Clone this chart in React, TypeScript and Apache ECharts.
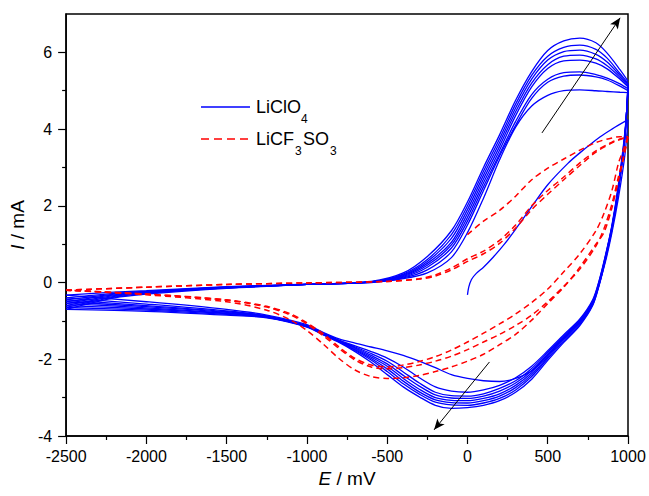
import React, { useEffect, useRef } from "react";
import * as echarts from "echarts";

const FONT = "'Liberation Sans', Arial, Helvetica, sans-serif";

// x tick labels: -2500 .. 1000 step 500 ; y tick labels -4 .. 6 step 2
const yMajorTicks = [-4, -2, 0, 2, 4, 6];
const yMinorTicks = [-3, -1, 1, 3, 5];

// ---------- LiClO4 (blue) ----------
// initial sweep from 0 mV
const blueInitE = [0, 8, 25, 55, 100, 160, 230, 310, 400, 500, 624, 700, 827, 900, 981, 1000];
const blueInitI = [-0.32, -0.12, 0.08, 0.24, 0.4, 0.66, 1.0, 1.45, 1.98, 2.55, 3.1, 3.38, 3.8, 4.0, 4.2, 4.24];

// anodic sweeps (cycles 2..9)
const anodicE = [-2500, -2200, -2000, -1500, -1000, -600, -400, -250, -100, 0, 100, 200, 300, 400, 500, 600, 700, 800, 870, 950, 1000];
const blueA2 = [-0.33, -0.25, -0.21, -0.11, -0.04, 0.0, 0.1, 0.25, 0.65, 1.3, 2.2, 3.2, 4.05, 4.6, 4.88, 5.0, 5.02, 5.0, 4.98, 4.96, 4.95];
const blueA3 = [-0.4, -0.28, -0.23, -0.12, -0.05, 0.01, 0.12, 0.33, 0.8, 1.5, 2.4, 3.3, 4.1, 4.8, 5.22, 5.38, 5.41, 5.36, 5.28, 5.12, 5.0];
const blueA4 = [-0.45, -0.3, -0.24, -0.12, -0.05, 0.01, 0.14, 0.4, 0.9, 1.6, 2.5, 3.35, 4.2, 4.9, 5.3, 5.47, 5.49, 5.42, 5.33, 5.18, 5.05];
const blueA5 = [-0.5, -0.32, -0.25, -0.13, -0.05, 0.02, 0.16, 0.45, 0.98, 1.7, 2.6, 3.45, 4.35, 5.1, 5.58, 5.78, 5.8, 5.72, 5.57, 5.3, 5.1];
const blueA6 = [-0.55, -0.34, -0.26, -0.13, -0.05, 0.02, 0.18, 0.5, 1.05, 1.8, 2.7, 3.55, 4.45, 5.2, 5.68, 5.9, 5.93, 5.83, 5.65, 5.35, 5.13];
const blueA7 = [-0.6, -0.36, -0.27, -0.14, -0.05, 0.02, 0.2, 0.55, 1.15, 1.9, 2.8, 3.65, 4.55, 5.3, 5.8, 6.02, 6.06, 5.95, 5.75, 5.4, 5.17];
const blueA8 = [-0.65, -0.38, -0.28, -0.14, -0.05, 0.02, 0.22, 0.6, 1.25, 2.0, 2.9, 3.75, 4.65, 5.4, 5.9, 6.13, 6.19, 6.08, 5.85, 5.45, 5.2];
const blueA9 = [-0.7, -0.4, -0.3, -0.15, -0.05, 0.03, 0.25, 0.68, 1.35, 2.1, 3.0, 3.85, 4.75, 5.5, 6.05, 6.3, 6.37, 6.25, 5.98, 5.55, 5.25];

// cathodic sweeps (cycles 1..8)
const cathodicE = [1000, 980, 940, 900, 860, 820, 780, 700, 600, 500, 400, 300, 200, 100, 0, -100, -200, -300, -400, -500, -600, -700, -800, -900, -1000, -1250, -1500, -2000, -2500];
const blueC1 = [4.24, 3.3, 2.2, 1.3, 0.55, -0.05, -0.52, -1.02, -1.45, -1.88, -2.3, -2.5, -2.58, -2.56, -2.5, -2.4, -2.22, -2.05, -1.9, -1.78, -1.68, -1.58, -1.47, -1.3, -1.1, -0.85, -0.7, -0.5, -0.33];
const blueC2 = [4.95, 3.9, 2.55, 1.5, 0.72, 0.05, -0.45, -0.95, -1.36, -1.78, -2.18, -2.48, -2.68, -2.8, -2.86, -2.83, -2.72, -2.48, -2.2, -1.97, -1.8, -1.65, -1.5, -1.31, -1.12, -0.87, -0.74, -0.56, -0.4];
const blueC3 = [5.0, 3.85, 2.5, 1.47, 0.7, 0.03, -0.48, -0.98, -1.39, -1.82, -2.24, -2.56, -2.76, -2.9, -2.96, -2.95, -2.86, -2.62, -2.33, -2.05, -1.85, -1.68, -1.51, -1.32, -1.13, -0.88, -0.76, -0.6, -0.45];
const blueC4 = [5.05, 3.8, 2.47, 1.45, 0.68, 0.0, -0.5, -1.0, -1.42, -1.86, -2.3, -2.62, -2.83, -2.96, -3.02, -3.01, -2.93, -2.7, -2.42, -2.12, -1.9, -1.7, -1.52, -1.33, -1.14, -0.89, -0.78, -0.63, -0.5];
const blueC5 = [5.1, 3.8, 2.45, 1.43, 0.66, -0.02, -0.53, -1.03, -1.45, -1.9, -2.35, -2.68, -2.9, -3.02, -3.08, -3.07, -3.0, -2.78, -2.5, -2.18, -1.94, -1.72, -1.53, -1.34, -1.14, -0.9, -0.8, -0.66, -0.55];
const blueC6 = [5.13, 3.78, 2.43, 1.41, 0.64, -0.04, -0.55, -1.06, -1.48, -1.94, -2.4, -2.74, -2.96, -3.08, -3.14, -3.13, -3.06, -2.85, -2.57, -2.25, -1.98, -1.75, -1.54, -1.35, -1.15, -0.9, -0.81, -0.69, -0.6];
const blueC7 = [5.17, 3.75, 2.41, 1.39, 0.62, -0.06, -0.58, -1.09, -1.52, -1.98, -2.45, -2.8, -3.02, -3.14, -3.2, -3.19, -3.12, -2.91, -2.64, -2.32, -2.02, -1.77, -1.55, -1.35, -1.15, -0.91, -0.83, -0.72, -0.65];
const blueC8 = [5.2, 3.72, 2.4, 1.37, 0.6, -0.08, -0.6, -1.12, -1.56, -2.03, -2.52, -2.86, -3.08, -3.2, -3.26, -3.28, -3.2, -2.98, -2.72, -2.4, -2.08, -1.8, -1.56, -1.36, -1.16, -0.92, -0.85, -0.75, -0.7];

// ---------- LiCF3SO3 (red) ----------
const redInitE = [0, 100, 200, 300, 400, 500, 600, 700, 800, 900, 950, 1000];
const redInitI = [1.25, 1.6, 1.88, 2.25, 2.68, 2.98, 3.22, 3.45, 3.65, 3.77, 3.8, 3.8];

const redAnodicE = [-2500, -2000, -1500, -1000, -500, -300, -200, -100, 0, 100, 200, 300, 400, 500, 600, 700, 800, 900, 950, 1000];
const redA2 = [-0.2, -0.12, -0.05, -0.01, 0.03, 0.1, 0.2, 0.38, 0.62, 0.82, 1.1, 1.5, 2.0, 2.4, 2.75, 3.12, 3.43, 3.66, 3.74, 3.8];
const redA3 = [-0.2, -0.12, -0.05, -0.01, 0.03, 0.09, 0.17, 0.33, 0.55, 0.75, 1.02, 1.42, 1.9, 2.3, 2.68, 3.05, 3.4, 3.64, 3.73, 3.8];

const redCathodicE = [1000, 970, 940, 900, 850, 800, 700, 600, 500, 400, 300, 200, 100, 0, -100, -200, -300, -400, -500, -600, -700, -800, -900, -1000, -1100, -1250, -1500, -2000, -2500];
const redC1 = [3.8, 3.45, 3.1, 2.4, 1.8, 1.35, 0.75, 0.28, -0.17, -0.52, -0.82, -1.08, -1.32, -1.55, -1.76, -1.93, -2.06, -2.15, -2.2, -2.15, -1.98, -1.68, -1.33, -1.05, -0.82, -0.62, -0.45, -0.3, -0.2];
const redC2 = [3.8, 3.25, 2.75, 2.05, 1.4, 0.95, 0.35, -0.1, -0.5, -0.85, -1.12, -1.35, -1.55, -1.75, -1.92, -2.05, -2.15, -2.22, -2.25, -2.2, -2.02, -1.72, -1.38, -1.08, -0.85, -0.64, -0.46, -0.3, -0.2];
const redC3 = [3.8, 3.2, 2.65, 1.95, 1.3, 1.0, 0.4, -0.12, -0.55, -0.98, -1.35, -1.62, -1.87, -2.05, -2.2, -2.32, -2.42, -2.48, -2.5, -2.45, -2.28, -1.98, -1.6, -1.25, -0.98, -0.72, -0.5, -0.32, -0.2];

// arrows [E1, I1, E2, I2]
const arrowUp = [464, 3.9, 951, 6.9];
const arrowDown = [137, -2.07, -208, -3.84];

const zip = (xs: number[], ys: number[]) => xs.map((x, i) => [x, ys[i]]);

export default function App() {
  const ref = useRef<HTMLDivElement>(null);

  useEffect(() => {
    if (!ref.current) return;
    const chart = echarts.init(ref.current, undefined, { renderer: "svg" });

    const blueCurves: [number[], number[]][] = [
      [blueInitE, blueInitI],
      [cathodicE, blueC1], [anodicE, blueA2],
      [cathodicE, blueC2], [anodicE, blueA3],
      [cathodicE, blueC3], [anodicE, blueA4],
      [cathodicE, blueC4], [anodicE, blueA5],
      [cathodicE, blueC5], [anodicE, blueA6],
      [cathodicE, blueC6], [anodicE, blueA7],
      [cathodicE, blueC7], [anodicE, blueA8],
      [cathodicE, blueC8], [anodicE, blueA9],
    ];
    const redCurves: [number[], number[]][] = [
      [redInitE, redInitI],
      [redCathodicE, redC1], [redAnodicE, redA2],
      [redCathodicE, redC2], [redAnodicE, redA3],
      [redCathodicE, redC3],
    ];

    const series: any[] = [];
    blueCurves.forEach(([e, i]) => {
      series.push({
        type: "line", data: zip(e, i), showSymbol: false, symbol: "none",
        smooth: 0.3,
        lineStyle: { color: "#0000ff", width: 1.3 }, silent: true, z: 2,
      });
    });
    redCurves.forEach(([e, i]) => {
      series.push({
        type: "line", data: zip(e, i), showSymbol: false, symbol: "none",
        smooth: 0.3,
        lineStyle: { color: "#ff0000", width: 1.5, type: [6, 4] }, silent: true, z: 3,
      });
    });
    series.push({
      type: "line", data: [], silent: true, z: 4,
      markLine: {
        silent: true, symbol: ["none", "arrow"], symbolSize: [7, 11],
        label: { show: false },
        lineStyle: { color: "#000", width: 1, type: "solid" },
        data: [
          [{ coord: [arrowUp[0], arrowUp[1]] }, { coord: [arrowUp[2], arrowUp[3]] }],
          [{ coord: [arrowDown[0], arrowDown[1]] }, { coord: [arrowDown[2], arrowDown[3]] }],
        ],
      },
    });

    const legendY1 = 107;
    const legendY2 = 139;
    const mainStyle = { fontSize: 18, fontFamily: FONT, fill: "#000" };
    const subStyle = { fontSize: 12, fontFamily: FONT, fill: "#000" };

    chart.setOption({
      animation: false,
      backgroundColor: "#fff",
      grid: { left: 60, right: 21, top: 14, bottom: 60, show: true, borderColor: "#000", borderWidth: 1.5 },
      xAxis: {
        type: "value", min: -2500, max: 1000, interval: 500,
        axisLine: { show: true, onZero: false, lineStyle: { color: "#000", width: 1.5 } },
        axisTick: { show: true, inside: false, length: 8, lineStyle: { color: "#000", width: 1.2 } },
        minorTick: { show: true, splitNumber: 2, length: 4, lineStyle: { color: "#000", width: 1.2 } },
        splitLine: { show: false },
        axisLabel: { color: "#000", fontSize: 16, fontFamily: FONT, margin: 12, formatter: (v: number) => String(v) },
        name: "{i|E} / mV", nameLocation: "middle", nameGap: 31,
        nameTextStyle: {
          color: "#000", fontSize: 19, fontFamily: FONT,
          rich: { i: { fontStyle: "italic", fontSize: 19, fontFamily: FONT, color: "#000" } },
        },
      },
      yAxis: [
        {
          type: "value", min: -4, max: 7, interval: 2,
          axisLine: { show: true, onZero: false, lineStyle: { color: "#000", width: 1.5 } },
          axisTick: { show: true, inside: false, length: 8, customValues: yMajorTicks, lineStyle: { color: "#000", width: 1.2 } },
          splitLine: { show: false },
          axisLabel: { color: "#000", fontSize: 16, fontFamily: FONT, margin: 14, customValues: yMajorTicks, formatter: (v: number) => String(v) },
          name: "{i|I} / mA", nameLocation: "middle", nameGap: 27, nameRotate: 90,
          nameTextStyle: {
            color: "#000", fontSize: 19, fontFamily: FONT,
            rich: { i: { fontStyle: "italic", fontSize: 19, fontFamily: FONT, color: "#000" } },
          },
        },
        {
          type: "value", min: -4, max: 7, position: "left",
          axisLine: { show: false, onZero: false },
          axisTick: { show: true, inside: false, length: 4, customValues: yMinorTicks, lineStyle: { color: "#000", width: 1.2 } },
          axisLabel: { show: false },
          splitLine: { show: false },
        },
      ],
      graphic: [
        { type: "line", shape: { x1: 201, y1: legendY1, x2: 250, y2: legendY1 }, style: { stroke: "#0000ff", lineWidth: 1.5 } },
        { type: "text", x: 256, y: legendY1, style: { text: "LiClO", verticalAlign: "middle", ...mainStyle } },
        { type: "text", x: 301, y: legendY1 + 12, style: { text: "4", verticalAlign: "middle", ...subStyle } },
        { type: "line", shape: { x1: 201, y1: legendY2, x2: 250, y2: legendY2 }, style: { stroke: "#ff0000", lineWidth: 1.5, lineDash: [8, 5] } },
        { type: "text", x: 256, y: legendY2, style: { text: "LiCF", verticalAlign: "middle", ...mainStyle } },
        { type: "text", x: 295, y: legendY2 + 12, style: { text: "3", verticalAlign: "middle", ...subStyle } },
        { type: "text", x: 303, y: legendY2, style: { text: "SO", verticalAlign: "middle", ...mainStyle } },
        { type: "text", x: 330, y: legendY2 + 12, style: { text: "3", verticalAlign: "middle", ...subStyle } },
      ],
      series,
    });

    return () => chart.dispose();
  }, []);

  return (
    <div
      ref={ref}
      style={{ position: "fixed", left: 0, top: 0, width: 649, height: 496, background: "#fff" }}
    />
  );
}
